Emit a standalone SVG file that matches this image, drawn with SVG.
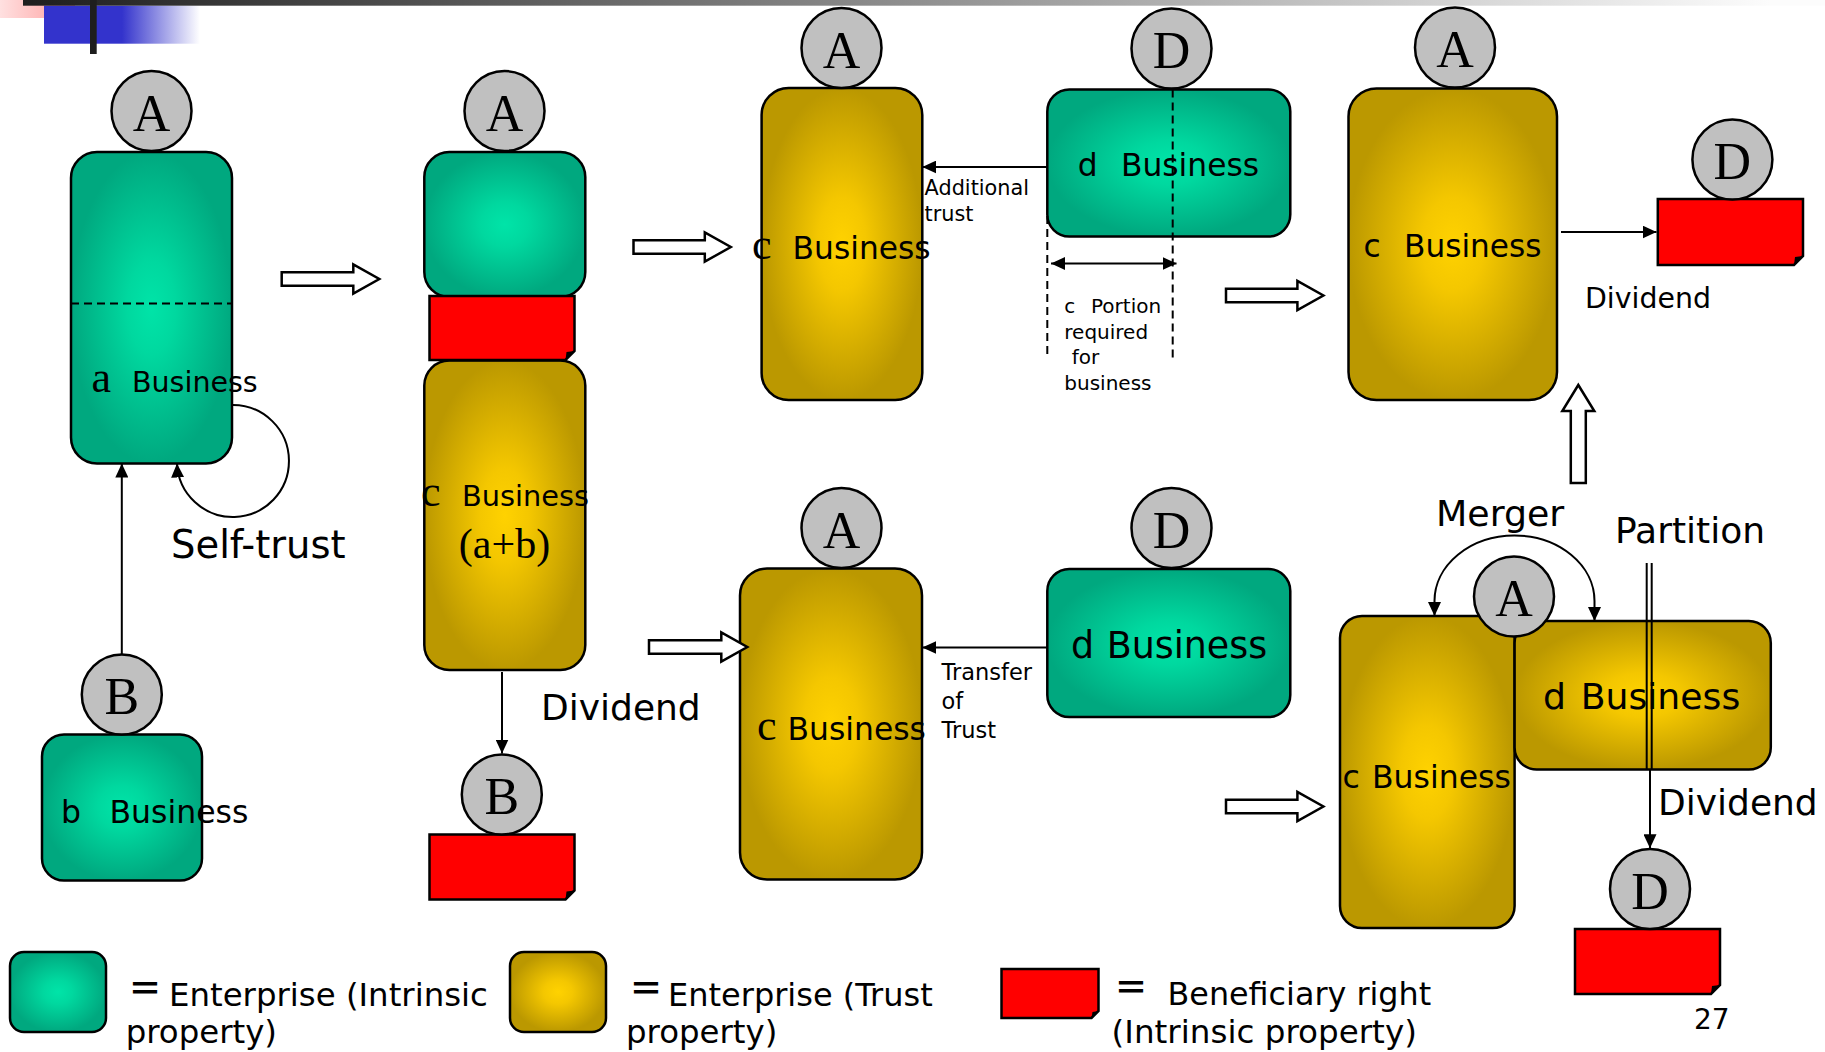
<svg xmlns="http://www.w3.org/2000/svg" width="1825" height="1052" viewBox="0 0 1825 1052">
  <defs>
    <radialGradient id="fillGreen" cx="0.5" cy="0.5" r="0.5">
      <stop offset="0" stop-color="#00e4a8"/>
      <stop offset="0.3" stop-color="#00d89f"/>
      <stop offset="1" stop-color="#00a87f"/>
    </radialGradient>
    <radialGradient id="fillGold" cx="0.5" cy="0.5" r="0.5">
      <stop offset="0" stop-color="#ffd200"/>
      <stop offset="0.3" stop-color="#f4c700"/>
      <stop offset="1" stop-color="#bb9800"/>
    </radialGradient>
    <linearGradient id="topBar" gradientUnits="userSpaceOnUse" x1="23" y1="0" x2="1770" y2="0">
      <stop offset="0" stop-color="#1e1e1e"/>
      <stop offset="1" stop-color="#fcfcfc"/>
    </linearGradient>
    <linearGradient id="pinkBlock" x1="0" y1="0" x2="1" y2="0">
      <stop offset="0" stop-color="#ffe0e0"/>
      <stop offset="1" stop-color="#ff9c9c"/>
    </linearGradient>
    <linearGradient id="blueBlock" gradientUnits="userSpaceOnUse" x1="44" y1="0" x2="200" y2="0">
      <stop offset="0" stop-color="#3333cc"/>
      <stop offset="0.5" stop-color="#3333cc"/>
      <stop offset="1" stop-color="#ffffff"/>
    </linearGradient>
    <marker id="head" viewBox="0 0 10 10" refX="10" refY="5" markerWidth="14" markerHeight="13" markerUnits="userSpaceOnUse" orient="auto-start-reverse" preserveAspectRatio="none">
      <path d="M0,0 L10,5 L0,10 Z" fill="#000"/>
    </marker>
    <style>
      .box{stroke:#000;stroke-width:2.5}
      .gr{fill:url(#fillGreen)}
      .au{fill:url(#fillGold)}
      .person{fill:#c0c0c0;stroke:#000;stroke-width:2.5}
      .who{font-family:"Liberation Serif",serif;font-size:52px;text-anchor:middle;fill:#000}
      .sans{font-family:"DejaVu Sans",sans-serif;fill:#000}
      .serif{font-family:"Liberation Serif",serif;fill:#000}
      .eq{font-family:"Noto Sans CJK JP","DejaVu Sans",sans-serif;font-weight:700;fill:#000}
      .right{fill:#ff0000;stroke:#000;stroke-width:2.5}
      .fold{fill:#000}
      .line{fill:none;stroke:#000;stroke-width:2}
      .dash{fill:none;stroke:#000;stroke-width:2;stroke-dasharray:8 5}
      .block{fill:#fff;stroke:#000;stroke-width:2.5}
    </style>
  </defs>

  <!-- slide header decoration -->
  <g id="header">
    <rect x="0" y="0" width="75" height="18" fill="url(#pinkBlock)"/>
    <rect x="44" y="5.7" width="156" height="38" fill="url(#blueBlock)"/>
    <rect x="23" y="0" width="1802" height="5.7" fill="url(#topBar)"/>
    <rect x="90" y="0" width="6.7" height="54" fill="#1e1e1e"/>
  </g>

  <!-- column 1: self-trust -->
  <g id="node-a-business">
    <rect class="box gr" x="71" y="152" width="161" height="311.5" rx="26"/>
    <path class="dash" d="M71,303.6 H232"/>
    <text class="serif" x="91.5" y="392" font-size="44">a</text>
    <text class="sans" x="132" y="392" font-size="28.5">Business</text>
  </g>
  <g id="node-A1">
    <circle class="person" cx="151.5" cy="111" r="40"/>
    <text class="who" x="151.5" y="130.5">A</text>
  </g>
  <g id="node-b-business">
    <rect class="box gr" x="42" y="734.5" width="160" height="146" rx="22"/>
    <text class="sans" x="61" y="822.5" font-size="31.5">b</text>
    <text class="sans" x="109.5" y="822.5" font-size="31.5">Business</text>
  </g>
  <g id="node-B1">
    <circle class="person" cx="121.8" cy="694.5" r="40"/>
    <text class="who" x="121.8" y="714">B</text>
  </g>

  <!-- column 2: trust after self-trust -->
  <g id="node-A2-enterprise">
    <rect class="box gr" x="424.3" y="152" width="161" height="145" rx="25"/>
  </g>
  <g id="node-c-ab-business">
    <rect class="box au" x="424.3" y="360.5" width="161" height="309.5" rx="25"/>
    <text class="serif" x="421" y="506" font-size="44">c</text>
    <text class="sans" x="462" y="506" font-size="28.8">Business</text>
    <text class="serif" x="504.5" y="558" font-size="42" text-anchor="middle">(a+b)</text>
  </g>
  <g id="node-right-A2">
    <path class="right" d="M429.5,296 H574.5 V351 L565.5,360 H429.5 Z"/>
    <path class="fold" d="M565.5,360 L566.5,352 L574.5,351 Z"/>
  </g>
  <g id="node-A2">
    <circle class="person" cx="504.5" cy="111" r="40"/>
    <text class="who" x="504.5" y="130.5">A</text>
  </g>
  <g id="node-right-B2">
    <path class="right" d="M429.5,834.5 H574.5 V890.5 L565.5,899.5 H429.5 Z"/>
    <path class="fold" d="M565.5,899.5 L566.5,891.5 L574.5,890.5 Z"/>
  </g>
  <g id="node-B2">
    <circle class="person" cx="501.8" cy="794.5" r="40"/>
    <text class="who" x="501.8" y="814">B</text>
  </g>

  <!-- column 3, top: additional trust -->
  <g id="node-c-business-top">
    <rect class="box au" x="761.6" y="88" width="160.7" height="312" rx="27"/>
    <text class="serif" x="752" y="259" font-size="44">c</text>
    <text class="sans" x="792.6" y="259" font-size="31.3">Business</text>
  </g>
  <g id="node-A3">
    <circle class="person" cx="841.5" cy="48" r="40"/>
    <text class="who" x="841.5" y="67.5">A</text>
  </g>
  <g id="node-d-business-top">
    <rect class="box gr" x="1047.3" y="89.5" width="243" height="147" rx="22"/>
    <text class="sans" x="1077.7" y="176" font-size="31.3">d</text>
    <text class="sans" x="1121" y="176" font-size="31.3">Business</text>
  </g>
  <g id="node-D3">
    <circle class="person" cx="1171.5" cy="48.5" r="40"/>
    <text class="who" x="1171.5" y="68">D</text>
  </g>

  <!-- column 4, top: dividend to D -->
  <g id="node-c-business-A4">
    <rect class="box au" x="1348.5" y="88.5" width="208.5" height="311.5" rx="28"/>
    <text class="sans" x="1363.4" y="257" font-size="31.2">c</text>
    <text class="sans" x="1404" y="257" font-size="31.2">Business</text>
  </g>
  <g id="node-A4">
    <circle class="person" cx="1455" cy="47.5" r="40"/>
    <text class="who" x="1455" y="67">A</text>
  </g>
  <g id="node-right-D4">
    <path class="right" d="M1657.8,199 H1803 V256 L1794,265 H1657.8 Z"/>
    <path class="fold" d="M1794,265 L1795,257 L1803,256 Z"/>
  </g>
  <g id="node-D4">
    <circle class="person" cx="1732.4" cy="159.5" r="40"/>
    <text class="who" x="1732.4" y="179">D</text>
  </g>

  <!-- column 3, bottom: transfer of trust -->
  <g id="node-c-business-bottom">
    <rect class="box au" x="740" y="568.5" width="182" height="311" rx="27"/>
    <text class="serif" x="757" y="740" font-size="44">c</text>
    <text class="sans" x="787.5" y="740" font-size="31.4">Business</text>
  </g>
  <g id="node-A5">
    <circle class="person" cx="841.5" cy="528" r="40"/>
    <text class="who" x="841.5" y="547.5">A</text>
  </g>
  <g id="node-d-business-bottom">
    <rect class="box gr" x="1047.3" y="569" width="243" height="148" rx="22"/>
    <text class="sans" x="1071" y="658" font-size="36.4">d</text>
    <text class="sans" x="1106.7" y="658" font-size="36.4">Business</text>
  </g>
  <g id="node-D5">
    <circle class="person" cx="1171.5" cy="528" r="40"/>
    <text class="who" x="1171.5" y="547.5">D</text>
  </g>

  <!-- merged enterprise -->
  <g id="node-c-business-merged">
    <rect class="box au" x="1340" y="616" width="174.6" height="312" rx="22"/>
    <text class="sans" x="1342.6" y="788" font-size="31.5">c</text>
    <text class="sans" x="1372" y="788" font-size="31.5">Business</text>
  </g>
  <g id="node-d-business-merged">
    <rect class="box au" x="1514.6" y="621" width="256.2" height="148.5" rx="22"/>
    <text class="sans" x="1543" y="709" font-size="36.2">d</text>
    <text class="sans" x="1580.7" y="709" font-size="36.2">Business</text>
  </g>
  <g id="node-right-D6">
    <path class="right" d="M1575,929 H1720 V985 L1711,994 H1575 Z"/>
    <path class="fold" d="M1711,994 L1712,986 L1720,985 Z"/>
  </g>
  <g id="node-D6">
    <circle class="person" cx="1650" cy="889" r="40"/>
    <text class="who" x="1650" y="908.5">D</text>
  </g>

  <!-- connectors -->
  <g id="connectors">
    <path class="line" d="M121.8,654.5 V463.5" marker-end="url(#head)"/>
    <path class="line" d="M233,405 A56,56 0 1 1 177,463.5" marker-end="url(#head)"/>
    <path class="line" d="M502,672 V753.5" marker-end="url(#head)"/>
    <path class="line" d="M1047.3,167 H922.3" marker-end="url(#head)"/>
    <path class="dash" d="M1047.3,216 V357"/>
    <path class="dash" d="M1172.7,89.5 V360"/>
    <path class="line" d="M1051,263.5 H1176.5" marker-start="url(#head)" marker-end="url(#head)"/>
    <path class="line" d="M1561,232 H1656.5" marker-end="url(#head)"/>
    <path class="line" d="M1047.3,647.5 H922.3" marker-end="url(#head)"/>
    <path class="line" d="M1434.5,616 V601 A80,65.5 0 0 1 1594.5,601 V621" marker-start="url(#head)" marker-end="url(#head)"/>
    <path class="line" d="M1646.7,563 V769.3 M1651.7,563 V769.3"/>
    <path class="line" d="M1650,769.3 V848.3" marker-end="url(#head)"/>
    <!-- hollow step arrows -->
    <path class="block" d="M281.7,272.3 H353.3 V264.3 L379.3,279 L353.3,293.7 V285.7 H281.7 Z"/>
    <path class="block" d="M633.5,240.3 H704.8 V232.3 L730.8,247 L704.8,261.7 V253.7 H633.5 Z"/>
    <path class="block" d="M1226,288.8 H1297.4 V280.8 L1323.4,295.5 L1297.4,310.2 V302.2 H1226 Z"/>
    <path class="block" d="M649,640.3 H721.3 V632.3 L747.3,647 L721.3,661.7 V653.7 H649 Z"/>
    <path class="block" d="M1226,799.8 H1297.4 V791.8 L1323.4,806.5 L1297.4,821.2 V813.2 H1226 Z"/>
    <path class="block" d="M1570.8,483 V411 H1562.3 L1578.3,385 L1594.3,411 H1585.8 V483 Z"/>
  </g>

  <!-- merger person drawn over both enterprises -->
  <g id="node-A6">
    <circle class="person" cx="1514" cy="596.5" r="40"/>
    <text class="who" x="1514" y="616">A</text>
  </g>

  <!-- connector labels -->
  <g id="labels">
    <text class="sans" x="171" y="558" font-size="38.5">Self-trust</text>
    <text class="sans" x="541" y="720" font-size="36">Dividend</text>
    <text class="sans" x="924.6" y="195" font-size="20.8">Additional</text>
    <text class="sans" x="924.6" y="220.5" font-size="20.8">trust</text>
    <text class="sans" font-size="20"><tspan x="1064.3" y="313.3">c</tspan><tspan x="1091" y="313.3">Portion</tspan></text>
    <text class="sans" x="1064.3" y="338.5" font-size="20">required</text>
    <text class="sans" x="1071.7" y="364.3" font-size="20">for</text>
    <text class="sans" x="1064.3" y="390" font-size="20">business</text>
    <text class="sans" x="1585" y="308" font-size="28.4">Dividend</text>
    <text class="sans" x="941.5" y="680" font-size="22.5">Transfer</text>
    <text class="sans" x="941.5" y="708.5" font-size="22.5">of</text>
    <text class="sans" x="941.5" y="737.5" font-size="22.5">Trust</text>
    <text class="sans" x="1436" y="526" font-size="36.3">Merger</text>
    <text class="sans" x="1615" y="543" font-size="36">Partition</text>
    <text class="sans" x="1658" y="815" font-size="36">Dividend</text>
    <text class="sans" x="1694" y="1029" font-size="28">27</text>
  </g>

  <!-- legend -->
  <g id="legend-intrinsic">
    <rect class="box gr" x="10" y="952" width="96" height="80" rx="14"/>
    <text class="eq" x="128" y="1001" font-size="34">＝</text>
    <text class="sans" x="169" y="1006" font-size="32.4">Enterprise (Intrinsic</text>
    <text class="sans" x="125.7" y="1043" font-size="32.4">property)</text>
  </g>
  <g id="legend-trust">
    <rect class="box au" x="510" y="952" width="96" height="80" rx="14"/>
    <text class="eq" x="629" y="1001" font-size="34">＝</text>
    <text class="sans" x="668" y="1006" font-size="32">Enterprise (Trust</text>
    <text class="sans" x="626" y="1043" font-size="32.4">property)</text>
  </g>
  <g id="legend-beneficiary">
    <path class="right" d="M1001.5,969 H1098.5 V1011 L1091.5,1018 H1001.5 Z"/>
    <path class="fold" d="M1091.5,1018 L1092.5,1012 L1098.5,1011 Z"/>
    <text class="eq" x="1114" y="1000" font-size="34">＝</text>
    <text class="sans" x="1167.5" y="1005" font-size="31.8">Beneficiary right</text>
    <text class="sans" x="1111.6" y="1043" font-size="32.6">(Intrinsic property)</text>
  </g>
</svg>
